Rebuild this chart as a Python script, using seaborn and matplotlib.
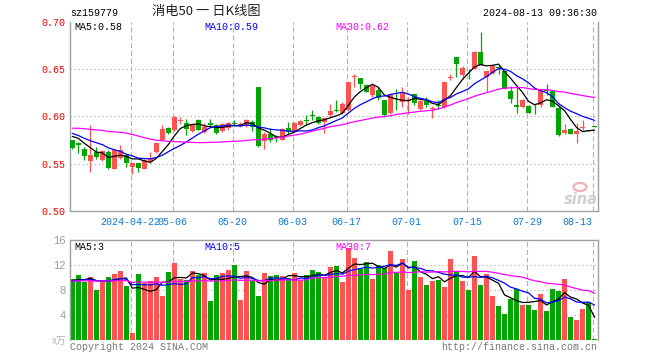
import math
import pandas as pd
import matplotlib
matplotlib.use('Agg')
import matplotlib.pyplot as plt
from matplotlib.patches import Ellipse
import seaborn as sns

# -----------------------------
# DATA  (sz159779, daily K, 2024-04-08 .. 2024-08-13)
# -----------------------------

open_ = [0.575, 0.572, 0.566, 0.553, 0.5625, 0.5537, 0.5625, 0.5449, 0.5565, 0.559,
         0.5467, 0.5502, 0.5449, 0.5519, 0.5625, 0.5747, 0.5877, 0.5853, 0.5947, 0.593,
         0.5842, 0.5965, 0.5835, 0.593, 0.5905, 0.5846, 0.588, 0.593, 0.5895, 0.5895,
         0.594, 0.6309, 0.574, 0.5811, 0.5789, 0.5754, 0.5881, 0.5835, 0.5905, 0.5965,
         0.6018, 0.5993, 0.594, 0.601, 0.607, 0.604, 0.607, 0.6414, 0.6407, 0.633,
         0.6221, 0.6274, 0.6175, 0.6035, 0.6175, 0.6151, 0.6165, 0.6239, 0.6081, 0.6161,
         0.6075, 0.6119, 0.6098, 0.6407, 0.6625, 0.6439, 0.646, 0.6502, 0.6677, 0.6414,
         0.646, 0.6526, 0.6484, 0.6263, 0.6123, 0.6095, 0.6105, 0.6125, 0.6116, 0.6272,
         0.6266, 0.6091, 0.5825, 0.587, 0.581, 0.5875, 0.5849, 0.5891]

high = [0.5755, 0.5725, 0.5675, 0.5905, 0.5677, 0.564, 0.564, 0.566, 0.5695, 0.5607,
        0.5502, 0.5502, 0.5554, 0.5625, 0.573, 0.5905, 0.5888, 0.600, 0.5993, 0.5975,
        0.593, 0.5975, 0.593, 0.5975, 0.5923, 0.593, 0.594, 0.5958, 0.594, 0.5975,
        0.5958, 0.6309, 0.5835, 0.5881, 0.580, 0.5881, 0.594, 0.594, 0.5965, 0.601,
        0.6063, 0.600, 0.5993, 0.6133, 0.6175, 0.6151, 0.6361, 0.6449, 0.6407, 0.6345,
        0.6344, 0.6309, 0.6175, 0.6239, 0.6291, 0.6309, 0.6204, 0.6239, 0.6168, 0.6204,
        0.611, 0.6168, 0.6361, 0.6449, 0.6625, 0.6537, 0.6502, 0.6695, 0.6895, 0.6484,
        0.6544, 0.6544, 0.6484, 0.6319, 0.6309, 0.6186, 0.6125, 0.6135, 0.6291, 0.6337,
        0.6275, 0.6105, 0.5923, 0.5875, 0.5926, 0.5958, 0.5856, 0.5895]

low = [0.565, 0.561, 0.5537, 0.5414, 0.5554, 0.553, 0.5449, 0.5442, 0.555, 0.5467,
       0.5396, 0.5414, 0.5449, 0.5502, 0.5614, 0.5747, 0.5818, 0.5846, 0.5923, 0.5807,
       0.5835, 0.5853, 0.5825, 0.5888, 0.5818, 0.5835, 0.586, 0.5895, 0.5888, 0.5888,
       0.5846, 0.5677, 0.5656, 0.573, 0.573, 0.5747, 0.5818, 0.5835, 0.5895, 0.5905,
       0.5965, 0.5916, 0.5825, 0.5993, 0.6046, 0.6028, 0.606, 0.6309, 0.6291, 0.6255,
       0.6204, 0.6168, 0.5993, 0.6028, 0.6063, 0.6098, 0.6028, 0.6116, 0.6063, 0.6098,
       0.598, 0.6081, 0.6088, 0.6379, 0.6414, 0.6396, 0.6396, 0.6502, 0.6544, 0.6256,
       0.6449, 0.6449, 0.6284, 0.6144, 0.6039, 0.6088, 0.6035, 0.6028, 0.6098, 0.6221,
       0.6098, 0.5789, 0.581, 0.581, 0.5719, 0.5856, 0.5842, 0.5885]

close = [0.567, 0.570, 0.558, 0.559, 0.557, 0.5635, 0.5456, 0.5642, 0.5642, 0.551,
         0.5502, 0.5456, 0.5537, 0.5565, 0.5719, 0.5863, 0.5825, 0.5993, 0.5958, 0.587,
         0.5923, 0.586, 0.5888, 0.5912, 0.5828, 0.5923, 0.593, 0.592, 0.5923, 0.5965,
         0.5888, 0.5684, 0.5811, 0.5754, 0.5775, 0.587, 0.5835, 0.593, 0.5951, 0.5954,
         0.600, 0.593, 0.5986, 0.6056, 0.6056, 0.6135, 0.636, 0.6421, 0.6337, 0.626,
         0.6316, 0.6196, 0.6011, 0.6221, 0.6168, 0.6256, 0.6172, 0.614, 0.6161, 0.6123,
         0.6085, 0.6112, 0.6361, 0.6414, 0.6554, 0.6509, 0.6453, 0.6677, 0.6544, 0.6484,
         0.6537, 0.6516, 0.6291, 0.6186, 0.6098, 0.6175, 0.604, 0.6115, 0.6281, 0.6266,
         0.6098, 0.580, 0.5853, 0.5818, 0.5842, 0.5881, 0.5846, 0.5888]

# volume in 万 (x10k)
volume = [9.76, 10.4, 9.33, 10.08, 8.0, 9.33, 10.08, 10.56, 11.04, 8.64,
          1.17, 10.56, 9.07, 9.44, 10.08, 7.04, 10.88, 12.32, 9.76, 9.6,
          11.04, 10.4, 10.72, 6.24, 10.4, 10.72, 11.2, 12.0, 6.4, 11.04,
          9.44, 7.04, 10.72, 10.24, 10.4, 10.24, 9.87, 10.72, 9.44, 10.4,
          11.2, 10.88, 9.87, 11.7, 11.89, 9.33, 14.67, 13.17, 11.31, 12.53,
          9.76, 12.0, 11.57, 14.24, 10.77, 13.01, 8.0, 12.64, 10.13, 8.8,
          9.49, 9.6, 8.53, 13.01, 10.93, 9.49, 8.0, 13.49, 8.8, 10.56,
          7.04, 5.49, 4.16, 6.56, 8.21, 5.6, 5.6, 4.8, 7.36, 4.64,
          8.21, 7.89, 9.81, 3.73, 3.2, 4.96, 6.03, 0.16]

# days before the visible window, only used to start the moving averages
earlier_close = [0.571, 0.574, 0.578, 0.575, 0.579, 0.577, 0.580, 0.576, 0.579,
                 0.590, 0.598, 0.604, 0.607, 0.603, 0.605, 0.601, 0.606, 0.602,
                 0.599, 0.600, 0.592, 0.588, 0.584, 0.579, 0.583, 0.580, 0.584,
                 0.582, 0.581]
earlier_volume = [9.1, 8.7, 10.2, 9.5, 8.9, 9.8, 10.4, 8.6, 9.2, 9.9,
                  8.8, 9.4, 10.1, 9.0, 8.5, 9.7, 9.3, 10.0, 8.9, 9.6,
                  9.2, 8.8, 9.5, 10.3, 9.1, 9.7, 9.4, 9.0, 9.8]

date_labels = ['2024-04-22', '05-06', '05-20', '06-03', '06-17',
               '07-01', '07-15', '07-29', '08-13']
date_index = [10, 17, 27, 37, 46, 56, 66, 76, 87]

price_ticks = [0.50, 0.55, 0.60, 0.65, 0.70]
volume_ticks = [4, 8, 12, 16]

# -----------------------------
# PREPARE
# -----------------------------

n = len(close)
day = list(range(n))

all_close = pd.Series(earlier_close + close)
all_vol = pd.Series(earlier_volume + volume)
ma = {}
vma = {}
for w in (5, 10, 30):
    ma[w] = all_close.rolling(w).mean().iloc[-n:].values
    vma[w] = all_vol.rolling(w).mean().iloc[-n:].values

RED = '#ff5353'
GREEN = '#00a600'
MA_COLORS = {5: 'black', 10: '#0000ff', 30: '#ff00ff'}
GRID = '#b4b4b4'
SPINE = '#a0a0a0'
MONO = 'Liberation Mono'

up = [c >= o for o, c in zip(open_, close)]
colors = [RED if u else GREEN for u in up]

vol_df = pd.DataFrame({'day': day, 'volume': volume,
                       'dir': ['up' if u else 'down' for u in up]})


def trunc2(v):
    # sina cuts the MA value to two decimals
    return math.floor(v * 100 + 1e-9) / 100


# -----------------------------
# FIGURE
# -----------------------------

sns.set_style('white')
plt.rcParams['font.family'] = ['Liberation Mono', 'DejaVu Sans']

W, H = 660, 360
fig = plt.figure(figsize=(W / 100, H / 100), dpi=100)
fig.patch.set_facecolor('white')

ax = fig.add_axes([70 / W, 1 - 211 / H, 528 / W, 189.3 / H])
axv = fig.add_axes([70 / W, 1 - 340 / H, 528 / W, 100 / H])

xmin, xmax = -0.38, n - 1 + 0.57
grid_x = [i - 0.27 for i in date_index]

# ---- price panel
for gx in grid_x:
    ax.axvline(gx, color=GRID, lw=0.8, ls=(0, (4.5, 2.5)), zorder=0)
for v in (0.55, 0.60, 0.65):
    ax.axhline(v, color=GRID, lw=0.8, ls=(0, (1.2, 2.4)), zorder=0)

ax.vlines(day, low, high, colors=colors, lw=0.9, zorder=2)
body_bottom = [min(o, c) for o, c in zip(open_, close)]
body_height = [max(abs(c - o), 0.0008) for o, c in zip(open_, close)]
ax.bar(day, body_height, bottom=body_bottom, width=0.78, color=colors,
       linewidth=0, zorder=3)

for w in (5, 10, 30):
    sns.lineplot(x=day, y=ma[w], color=MA_COLORS[w], lw=0.9, ax=ax, zorder=4)

ax.set_xlim(xmin, xmax)
ax.set_ylim(0.50, 0.70)
ax.set_yticks(price_ticks)
ax.set_yticklabels([f'{t:.2f}' for t in price_ticks], color='#ee0000',
                   fontsize=7.2, family=MONO)
ax.set_xticks([])
ax.tick_params(axis='y', length=0, pad=3)
ax.set_xlabel('')
ax.set_ylabel('')
for side in ('left', 'right', 'bottom'):
    ax.spines[side].set_color(SPINE)
    ax.spines[side].set_linewidth(1)
ax.spines['top'].set_visible(False)

# date labels (the first one runs into the second, as on the original)
for i, lab in zip(date_index, date_labels):
    last = lab == date_labels[-1]
    ax.text(i - 0.45 if last else i - 0.27, -0.058, lab,
            transform=ax.get_xaxis_transform(), ha='right' if last else 'center',
            va='center', color='#1177cc', fontsize=7.2, family=MONO)

for w, px in ((5, 74), (10, 204), (30, 335)):
    fig.text(px / W, 1 - 26.5 / H, f'MA{w}:{trunc2(ma[w][-1]):.2f}',
             color=MA_COLORS[w], fontsize=7.2, family=MONO, va='center')

# sina watermark
fig.add_artist(Ellipse((580 / W, 1 - 187 / H), 13 / W, 8 / H,
                       facecolor='none', edgecolor='#f2b0b0', lw=1.6))
fig.text(581 / W, 1 - 199 / H, 'sina', color='#cfcfcf', fontsize=10.5,
         fontweight='bold', style='italic', ha='center', va='center',
         family='DejaVu Sans')

# ---- volume panel
for gx in grid_x:
    axv.axvline(gx, color=GRID, lw=0.8, ls=(0, (4.5, 2.5)), zorder=0)
for v in (4, 8, 12):
    axv.axhline(v, color=GRID, lw=0.8, ls=(0, (1.2, 2.4)), zorder=0)

sns.barplot(data=vol_df, x='day', y='volume', hue='dir',
            palette={'up': RED, 'down': GREEN}, dodge=False, width=0.78,
            saturation=1, linewidth=0, legend=False, ax=axv, zorder=2)

for w in (5, 10, 30):
    sns.lineplot(x=day, y=vma[w], color=MA_COLORS[w], lw=0.9, ax=axv, zorder=4)

axv.set_xlim(xmin, xmax)
axv.set_ylim(0, 16)
axv.set_xticks([])
axv.set_yticks(volume_ticks)
axv.set_yticklabels([str(t) for t in volume_ticks], color='#9a9a9a',
                    fontsize=8, family='Liberation Sans')
axv.tick_params(axis='y', length=0, pad=3)
axv.set_xlabel('')
axv.set_ylabel('')
for side in ('left', 'right', 'top'):
    axv.spines[side].set_color(SPINE)
    axv.spines[side].set_linewidth(1)
axv.spines['bottom'].set_visible(False)

fig.text(66 / W, 1 - 341 / H, 'x万', color='#b0b0b0', fontsize=7,
         ha='right', va='center', style='italic',
         family=['Noto Sans CJK SC', 'DejaVu Sans'])

for w, px in ((5, 74), (10, 204), (30, 335)):
    fig.text(px / W, 1 - 246.5 / H, f'MA{w}:{int(vma[w][-1])}',
             color=MA_COLORS[w], fontsize=7.2, family=MONO, va='center')

# ---- header and footer
fig.text(70 / W, 1 - 12.5 / H, 'sz159779', color='black', fontsize=7.2,
         family=MONO, va='center')
fig.text(206 / W, 1 - 12 / H, '消电50 一 日K线图', color='#222222', fontsize=9.5,
         ha='center', va='center', family=['Noto Sans CJK SC', 'DejaVu Sans'])
fig.text(597 / W, 1 - 12.5 / H, '2024-08-13 09:36:30', color='black',
         fontsize=7.2, family=MONO, ha='right', va='center')

fig.text(70 / W, 1 - 347.5 / H, 'Copyright 2024 SINA.COM', color='#777777',
         fontsize=7.2, family=MONO, va='center')
fig.text(597 / W, 1 - 347.5 / H, 'http://finance.sina.com.cn', color='#777777',
         fontsize=7.2, family=MONO, ha='right', va='center')

fig.savefig('out.png', dpi=100, facecolor='white')
plt.close(fig)
